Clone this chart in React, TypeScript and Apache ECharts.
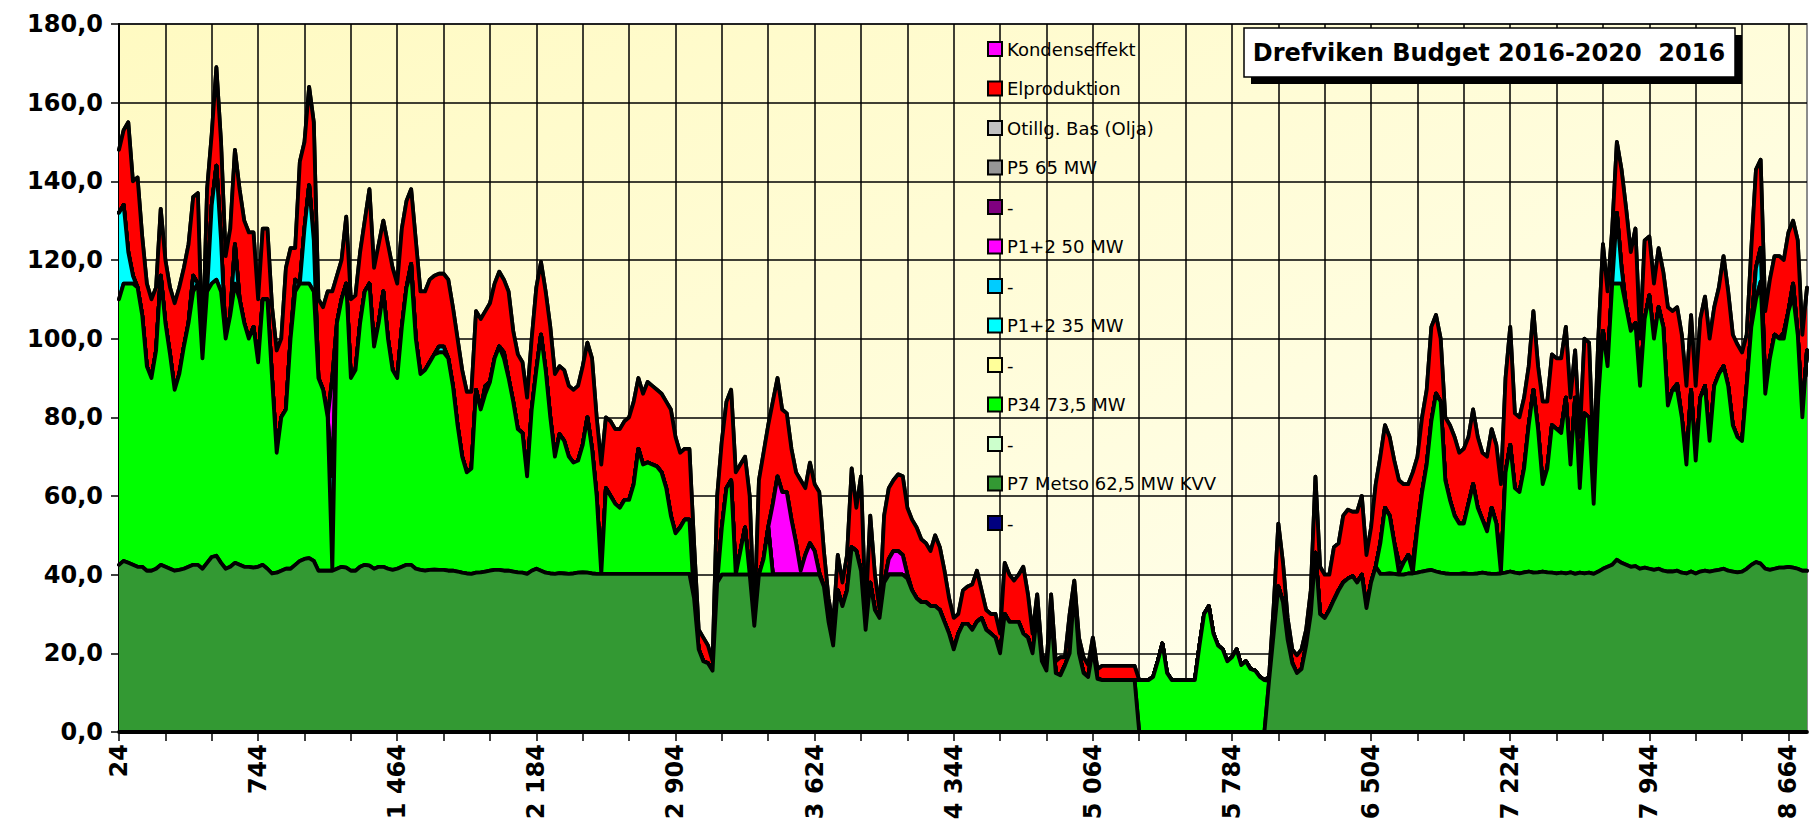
import React, { useEffect, useRef } from "react";
import * as echarts from "echarts";

// x tick labels (hours), one every 30 days
const hourTickLabels = ["24", "744", "1 464", "2 184", "2 904", "3 624", "4 344", "5 064", "5 784", "6 504", "7 224", "7 944", "8 664"];

// Upper edge of P7 Metso (dark green), one value per day (hour 24, 48, ... 8760)
const metso = [
  42.5, 43.5, 43, 42.5, 42, 42, 41, 41, 41.5, 42.5, 42, 41.5, 41, 41.2, 41.5, 42, 42.5, 42.5, 41.5, 43,
  44.5, 44.8, 43, 41.5, 42, 43, 42.5, 42, 42, 41.8, 42, 42.5, 41.5, 40.3, 40.5, 41, 41.5, 41.5, 42.5, 43.5,
  44, 44.2, 43.5, 41, 41, 41, 41, 41.5, 42, 41.8, 41, 41, 42, 42.5, 42.3, 41.5, 42, 42, 41.5, 41.2,
  41.5, 42, 42.5, 42.5, 41.5,
  41.2, 41, 41.2, 41.3, 41.2, 41.2, 41, 41, 40.8, 40.5, 40.3, 40.2, 40.5, 40.6, 40.8,
  41, 41.2, 41.2, 41, 41, 40.8, 40.6, 40.5, 40.2, 41, 41.5, 41,
  40.5, 40.3, 40.2, 40.4, 40.3, 40.2, 40.3, 40.5, 40.6, 40.5, 40.3, 40.2,
  40.2, 40.2, 40.2, 40.2, 40.2, 40.2, 40.2, 40.2, 40.2, 40.2, 40.2, 40.2, 40.2, 40.2, 40.2, 40.2, 40.2, 40.2, 40.2, 40.2,
  34, 21, 18, 17.5, 15.6,
  38, 40, 40, 40, 40, 40, 40, 40, 27, 40, 40, 40, 40, 40, 40, 40, 40, 40, 40, 40, 40, 40, 40,
  37, 28, 22, 36, 32, 36, 47, 46, 41, 26, 38, 31, 29, 38, 40, 40, 40, 40, 39, 36,
  34, 33, 33, 32, 32, 31, 28, 25, 21, 25, 27.5, 27.5, 26, 28,
  29, 26, 25, 24, 20, 30, 28, 28, 28, 25, 24, 20, 30, 18, 15.6, 30, 15, 14.4, 17, 20,
  36, 20, 15, 14, 21, 13.5, 13.2, 13.2, 13.2, 13.2, 13.2, 13.2, 13.2, 13.2,
  0, 0, 0, 0, 0, 0, 0, 0, 0, 0, 0, 0, 0, 0, 0, 0, 0, 0, 0, 0, 0, 0, 0, 0, 0, 0, 0, 0,
  13, 25, 37, 33, 23.5, 17.5, 15, 16, 22, 30, 45.6, 30, 29, 31, 33.6, 36, 38, 39, 39.6, 38,
  40, 31.5, 38, 42,
  40.2, 40.2, 40.3, 40.2, 40, 40, 40.3, 40.3, 40.5, 40.8, 41, 41.2, 40.8, 40.5, 40.3, 40.2, 40.2, 40.2, 40.3, 40.2,
  40.2, 40.3, 40.5, 40.3, 40.2, 40.2, 40.3, 40.5, 40.8, 40.5, 40.3, 40.6, 40.8, 40.5, 40.6, 40.8, 40.6, 40.5, 40.3,
  40.5, 40.3, 40.6, 40.2, 40.5, 40.3, 40.5, 40.2, 40.8, 41.5, 42, 42.5, 43.8, 43, 42.5, 42, 42.2, 41.5, 41.8, 41.5,
  41.2, 41.5, 41, 40.8, 40.8, 41, 40.5, 40.3, 40.8, 40.3, 40.8, 41, 40.8, 41, 41.2, 41.5, 41, 40.8, 40.6, 40.8,
  41.5, 42.5, 43.2, 42.8, 41.5, 41.2, 41.5, 41.8, 41.8, 42, 41.8, 41.5, 41, 41,
];

// Upper edge of P34 73,5 MW (light green); 0 = no P34 that day
const p34Top = [
  110, 114, 114, 114, 113, 106, 93, 90, 97, 116, 104, 96, 87, 91, 98, 104, 112, 114, 95, 112,
  114, 115, 112, 100, 106, 114, 110, 104, 100, 103, 94, 110, 110, 90, 71, 80, 82, 100, 112, 114,
  114, 114, 112, 90, 87, 80, 41, 104, 110, 114, 90, 92, 104, 112, 114, 98, 104, 112, 100, 92,
  90, 103, 113, 117, 100,
  91, 92, 94, 96, 96.5, 96.5, 95, 88, 78, 70, 66, 67, 87, 82, 86, 89, 95, 98, 95, 90,
  84, 77, 76, 65, 82, 92, 101, 92, 80, 70, 75.7, 74, 70, 68.5, 69, 73, 80, 72, 60,
  0,
  62, 60, 58, 57, 59, 59, 63, 72, 68, 68.5, 68, 67.5, 66, 62, 55, 50.5, 52, 54, 54,
  0, 0, 0, 0, 0,
  0, 52, 62, 64, 0, 46, 52, 0, 0, 0, 44, 52,
  0, 0, 0, 0, 0, 0, 0, 0, 0, 0, 0, 0, 0, 0, 0, 0, 0, 0, 0, 0,
  0, 0, 0, 0, 0, 0, 0, 0, 0, 0, 0, 0, 0, 0, 0, 0, 0, 0, 0, 0,
  0, 0, 0, 0, 0, 0, 0, 0, 0, 0, 0, 0, 0, 0, 0, 0, 0, 0, 0, 0,
  0, 0, 0, 0, 0, 0, 0, 0, 0, 0, 0, 0, 0, 0, 0, 0, 0, 0, 0,
  13.2, 13.2, 13.2, 14, 18, 22.5, 15, 13.2, 13.2, 13.2, 13.2, 13.2, 13.2, 22, 30, 32, 25, 22, 21, 18,
  19, 21, 17, 18, 16, 15.6, 14, 13.2,
  0, 0, 0, 0, 0, 0, 0, 0, 0, 0, 0, 0, 0, 0, 0, 0, 0, 0, 0, 0, 0, 0, 0, 0,
  48, 57, 55, 48, 40.5, 43, 45, 40.5, 52, 61, 68, 79, 86, 84, 64, 59, 55, 53, 53, 58,
  63, 57, 54, 51, 57, 53, 40.5, 66, 73, 62, 61, 67, 78, 87, 77, 63, 67, 78, 77,
  76, 85, 68, 85, 62, 81, 80, 58, 85, 102, 93, 114, 114, 114, 108, 102, 104, 88, 105, 111,
  100, 108, 103, 83, 87, 87, 80, 68, 87, 69, 85, 88, 74, 88, 91, 93, 88, 78, 75, 74,
  88, 103, 110, 114.5, 86, 95, 101, 100, 100, 107, 111, 101, 80, 97,
];

// Upper edge of the whole stack (top of Elproduktion, red); 0 = no red that day
const totalTop = [
  148, 153, 155, 140, 141, 126, 114, 110, 113, 133, 120, 113, 109, 113, 118, 124, 136, 137, 96, 138,
  152, 169, 150, 121, 128, 148, 138, 130, 127, 127, 110, 128, 128, 108, 97, 100, 118, 123, 123, 145,
  150, 164, 155, 110, 108, 112, 112, 116, 120, 131, 110, 111, 122, 130, 138, 118, 124, 130, 124, 118,
  114, 128, 135, 138, 125,
  112, 112, 115, 116, 116.5, 116.5, 115, 108, 100, 92, 86.5, 86.5, 107, 105, 107, 109, 114, 117, 115, 112,
  102, 96, 94, 85, 100, 113, 119.5, 112, 103, 91, 93, 92, 88, 87, 88, 93, 99, 95, 80,
  68,
  80, 79, 77, 77, 79, 80, 84, 90, 86, 89, 88, 87, 86, 84, 82, 75, 71, 72, 72,
  48, 26, 24, 22, 18,
  60, 74, 84, 87, 66, 68, 70, 60, 28, 64, 71, 78, 84, 90, 82, 81, 72, 66, 64, 62,
  68.5, 63, 61, 46, 34, 27, 45, 38, 45, 67, 57, 65, 30, 55, 40, 31, 55, 62, 64, 65.5,
  65, 57, 54, 52, 49, 48, 46, 50, 47, 41, 34, 29, 30, 36, 37, 37.5, 41,
  36, 31, 30, 30, 25, 43, 40, 38.5, 40, 42, 35, 25, 35, 20, 17, 35, 18, 19, 19, 30,
  38.5, 24, 19, 17, 24, 16, 16.8, 16.8, 16.8, 16.8, 16.8, 16.8, 16.8, 16.8,
  0, 0, 0, 0, 0, 0, 0, 0, 0, 0, 0, 0, 0, 0, 0, 0, 0, 0, 0, 0, 0, 0, 0, 0, 0, 0, 0, 0,
  14, 32, 53, 43, 29, 21, 19.5, 21, 26, 36, 64.9, 42, 40, 40, 47, 48, 55, 56.5, 56, 56,
  60, 45, 52, 63,
  70, 78, 75, 69, 64, 63, 63, 66, 70, 80, 87, 103, 106, 100, 80, 78, 75, 71, 72, 75,
  82, 75, 71, 70, 77, 73, 63, 90, 103, 81, 80, 85, 93, 107, 93, 84, 84, 96, 95,
  95, 103, 85, 97, 75, 100, 99, 68, 100, 124, 112, 128, 150, 143, 133, 122, 128, 100, 125, 126,
  114, 123, 117, 108, 107, 108, 101, 88, 106, 88, 105, 110.7, 100, 108, 113, 121, 112, 101, 98.5, 96.5,
  101, 123, 143, 145.5, 107, 115, 121, 121, 120, 127, 130, 125, 101, 113,
];

// Upper edge of P1+2 35 MW (cyan) on the days it shows: [day index, level]
const cyanTop: [number, number][] = [
  [0, 132], [1, 134], [2, 122], [3, 116], [16, 116], [20, 134], [21, 144], [22, 125], [25, 124],
  [38, 115], [40, 128], [41, 139], [42, 125], [46, 65], [63, 119], [69, 98], [70, 98], [79, 88],
  [83, 96.5], [276, 43], [279, 43], [311, 77], [323, 132], [324, 118], [336, 88.5], [353, 118],
  [354, 123], [355, 87.5], [359, 101.5], [361, 114],
];

// Upper edge of P1+2 50 MW (magenta) on the days it shows: [day index, level]
const magentaTop: [number, number][] = [
  [46, 90], [141, 58], [142, 65], [143, 61], [144, 61], [145, 54], [146, 48], [147, 41], [148, 45],
  [149, 48], [150, 46], [151, 40.5], [166, 44], [167, 46], [168, 46], [169, 45], [170, 40],
];

const seriesDefs = [
  { name: "-1", color: "#000080" },
  { name: "P7 Metso 62,5 MW KVV", color: "#339933" },
  { name: "-2", color: "#CCFFCC" },
  { name: "P34 73,5 MW", color: "#00FF00" },
  { name: "-3", color: "#FFFF99" },
  { name: "P1+2 35 MW", color: "#00FFFF" },
  { name: "-4", color: "#00CCFF" },
  { name: "P1+2 50 MW", color: "#FF00FF" },
  { name: "-5", color: "#800080" },
  { name: "P5 65 MW", color: "#969696" },
  { name: "Otillg. Bas (Olja)", color: "#C0C0C0" },
  { name: "Elproduktion", color: "#FF0000" },
  { name: "Kondenseffekt", color: "#FF00FF" },
];

const r1 = (v: number) => Math.round(v * 10) / 10;

function buildSeriesValues() {
  const n = metso.length;
  const cyanMap = new Map(cyanTop);
  const magMap = new Map(magentaTop);
  const vals: Record<string, number[]> = {};
  seriesDefs.forEach((d) => (vals[d.name] = new Array(n).fill(0)));
  for (let i = 0; i < n; i++) {
    const m = metso[i];
    const g = Math.max(m, p34Top[i]);
    const c = cyanMap.has(i) ? Math.max(g, cyanMap.get(i) as number) : g;
    const p = magMap.has(i) ? Math.max(c, magMap.get(i) as number) : c;
    const t = Math.max(p, totalTop[i]);
    vals["P7 Metso 62,5 MW KVV"][i] = r1(m);
    vals["P34 73,5 MW"][i] = r1(g - m);
    vals["P1+2 35 MW"][i] = r1(c - g);
    vals["P1+2 50 MW"][i] = r1(p - c);
    vals["Elproduktion"][i] = r1(t - p);
  }
  return vals;
}

export default function App() {
  const ref = useRef<HTMLDivElement>(null);

  useEffect(() => {
    if (!ref.current) return;
    const chart = echarts.init(ref.current, undefined, { renderer: "svg" });
    const hours = metso.map((_, i) => String(24 * (i + 1)));
    const vals = buildSeriesValues();
    const font = "DejaVu Sans";

    const series = seriesDefs.map((d, k) => ({
      name: d.name,
      type: "line",
      stack: "total",
      data: vals[d.name],
      symbol: "none",
      showSymbol: false,
      silent: true,
      z: 30 - k,
      color: d.color,
      itemStyle: { color: d.color },
      lineStyle: { color: "#000", width: 3.8, join: "round", cap: "round" },
      areaStyle: { color: d.color, opacity: 1 },
      emphasis: { disabled: true },
    }));

    chart.setOption({
      animation: false,
      grid: {
        left: 119,
        right: 7,
        top: 24,
        bottom: 103,
        show: true,
        backgroundColor: new echarts.graphic.LinearGradient(0, 0, 1, 1, [
          { offset: 0, color: "#FFFAC2" },
          { offset: 1, color: "#FFFFF3" },
        ]),
        borderColor: "#8c8c8c",
        borderWidth: 2,
      },
      legend: {
        orient: "vertical",
        left: 987,
        top: 40,
        padding: 0,
        icon: "rect",
        itemWidth: 14,
        itemHeight: 14,
        itemGap: 21.5,
        selectedMode: false,
        data: seriesDefs.map((d) => d.name).reverse(),
        itemStyle: { borderColor: "#000", borderWidth: 2 },
        formatter: (name: string) => (name.startsWith("-") ? "-" : name),
        textStyle: { fontFamily: font, fontSize: 18, color: "#000", lineHeight: 18 },
      },
      xAxis: {
        type: "category",
        data: hours,
        boundaryGap: false,
        axisLine: { show: true, onZero: false, lineStyle: { color: "#000", width: 2 } },
        axisTick: { show: true, interval: 9, length: 9, lineStyle: { color: "#000", width: 1.5 } },
        axisLabel: {
          interval: 29,
          rotate: 90,
          margin: 12,
          fontFamily: font,
          fontWeight: "bold",
          fontSize: 24,
          color: "#000",
          formatter: (_v: string, idx: number) => hourTickLabels[Math.round(idx / 30)] ?? "",
        },
        splitLine: { show: true, interval: 9, lineStyle: { color: "#000", width: 1.5 } },
      },
      yAxis: {
        type: "value",
        min: 0,
        max: 180,
        interval: 20,
        axisLine: { show: true, lineStyle: { color: "#000", width: 2 } },
        axisTick: { show: true, length: 8, lineStyle: { color: "#000", width: 1.5 } },
        axisLabel: {
          margin: 16,
          fontFamily: font,
          fontWeight: "bold",
          fontSize: 24,
          color: "#000",
          formatter: (v: number) => v.toFixed(1).replace(".", ","),
        },
        splitLine: { show: true, lineStyle: { color: "#000", width: 1.5 } },
      },
      graphic: [
        { type: "rect", z: 100, shape: { x: 1251, y: 35, width: 491, height: 49 }, style: { fill: "#000" } },
        {
          type: "rect",
          z: 101,
          shape: { x: 1244, y: 28, width: 491, height: 49 },
          style: { fill: "#fff", stroke: "#000", lineWidth: 1.5 },
        },
        {
          type: "text",
          z: 102,
          x: 1489,
          y: 53,
          style: {
            text: "Drefviken Budget 2016-2020  2016",
            font: `bold 24px "${font}"`,
            fill: "#000",
            align: "center",
            verticalAlign: "middle",
          },
        },
      ],
      series,
    });
    return () => chart.dispose();
  }, []);

  return (
    <div
      ref={ref}
      style={{ position: "fixed", left: 0, top: 0, width: 1814, height: 835, background: "#fff" }}
    />
  );
}
